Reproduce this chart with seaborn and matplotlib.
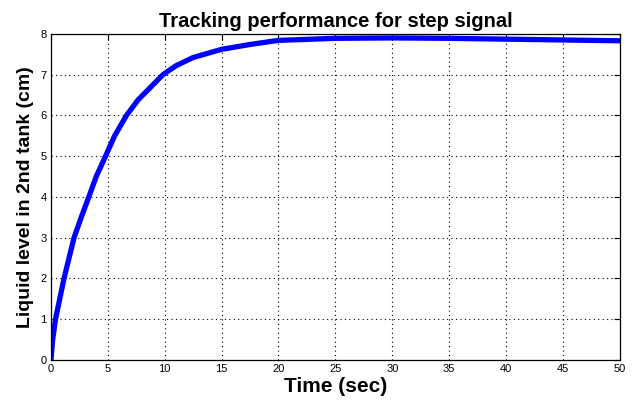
import matplotlib
matplotlib.use("Agg")
import matplotlib.pyplot as plt
import seaborn as sns
import pandas as pd

time_s = [0, 0.15, 0.4, 1.15, 2.03, 2.65, 3.33, 3.98, 4.8, 5.6, 6.64, 7.66, 9.85,
          11.0, 12.5, 15.0, 17.5, 20.0, 25.0, 30.0, 35.0, 40.0, 45.0, 50.0]
level_cm = [0, 0.5, 1.0, 2.0, 3.0, 3.49, 4.0, 4.5, 5.0, 5.5, 6.0, 6.38, 7.0,
            7.22, 7.42, 7.62, 7.74, 7.84, 7.89, 7.9, 7.89, 7.87, 7.85, 7.83]
x_ticks = [0, 5, 10, 15, 20, 25, 30, 35, 40, 45, 50]
y_ticks = [0, 1, 2, 3, 4, 5, 6, 7, 8]

sns.set_style("white")
plt.rcParams['font.family'] = ['Liberation Sans', 'DejaVu Sans']
plt.rcParams['text.color'] = 'black'
plt.rcParams['axes.labelcolor'] = 'black'

df = pd.DataFrame({"t": time_s, "y": level_cm})
fig = plt.figure(figsize=(6.37, 4.03), dpi=100)
ax = fig.add_axes([0.080, 0.107, 0.893, 0.809])
sns.lineplot(data=df, x="t", y="y", ax=ax, color=(0, 0, 1), linewidth=3.8, sort=False)

ax.set_xlim(0, 50)
ax.set_ylim(0, 8)
ax.set_xticks(x_ticks)
ax.set_yticks(y_ticks)
ax.tick_params(direction="in", top=True, right=True, length=4, width=0.8,
               labelsize=8, colors="black", pad=3)
ax.grid(True, linestyle=(0, (1, 3)), color="black", linewidth=0.8)
for s in ax.spines.values():
    s.set_color("black")
    s.set_linewidth(0.9)
ax.set_title("Tracking performance for step signal", fontsize=14.5, fontweight="bold",
             pad=5, color="black")
ax.set_xlabel("Time (sec)", fontsize=15, fontweight="bold", labelpad=2, color="black")
ax.set_ylabel("Liquid level in 2nd tank (cm)", fontsize=14, fontweight="bold",
              labelpad=5, color="black")

fig.savefig("out.png", dpi=100)
